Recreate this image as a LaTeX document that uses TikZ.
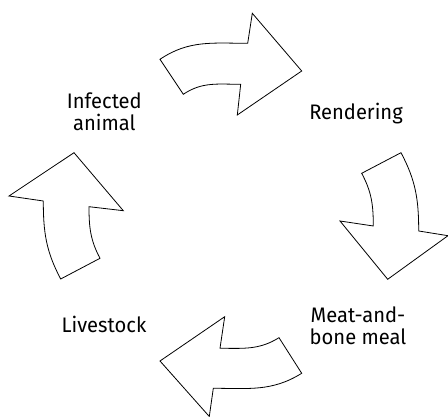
\documentclass[tikz,border=0pt]{standalone}
\usepackage{fontspec}
\setmainfont[FakeStretch=0.96]{Fira Sans}
\usetikzlibrary{calc}

\tikzset{
  blockarrow/.style={draw, line width=0.8pt, line join=miter},
  stage/.style={anchor=base, align=center, inner sep=0pt, font=\fontsize{21}{22}\selectfont}
}

\begin{document}
\begin{tikzpicture}[x=1pt, y=1pt]
        \useasboundingbox (0,0) rectangle (448,417);
        % labels
        \node[stage](infected)at(104.3,286.5){Infected\\animal};
        \node[stage](rendering)at(356,297.5){Rendering};
        \node[stage](meal)at(358,72.7){Meat-and-\\bone meal};
        \node[stage](livestock)at(104,84){Livestock};
        % top arrow
        \coordinate(T1)at(160,357.7);
        \coordinate(T2)at(183.3,322.7);
        \coordinate(T3)at(240.7,332.7);
        \coordinate(T4)at(237.3,302);
        \coordinate(T5)at(301.7,346);
        \coordinate(T6)at(252.3,403.7);
        \coordinate(T7)at(247.7,373.7);
        \path[blockarrow](T1)--(T2)to[out=34,in=180](T3)--(T4)--(T5)--(T6)--(T7)to[out=180,in=34](T1)--cycle;
        % right arrow
        \coordinate(R1)at(361.7,243.7);
        \coordinate(R2)at(401,264.3);
        \coordinate(R3)at(418.7,186);
        \coordinate(R4)at(448,181.3);
        \coordinate(R5)at(387.7,137.7);
        \coordinate(R6)at(340,196);
        \coordinate(R7)at(373.3,191);
        \path[blockarrow](R1)--(R2)to[out=-62,in=90](R3)--(R4)--(R5)--(R6)--(R7)to[out=90,in=-62](R1)--cycle;
        % bottom arrow
        \coordinate(B1)at(279,79.3);
        \coordinate(B2)at(301.7,43.7);
        \coordinate(B3)at(213.3,28.7);
        \coordinate(B4)at(209.3,0.5);
        \coordinate(B5)at(160,56);
        \coordinate(B6)at(224.7,100.3);
        \coordinate(B7)at(220,68.7);
        \path[blockarrow](B1)--(B2)to[out=212,in=0](B3)--(B4)--(B5)--(B6)--(B7)to[out=0,in=212](B1)--cycle;
        % left arrow
        \coordinate(L1)at(60.7,138);
        \coordinate(L2)at(100,158.7);
        \coordinate(L3)at(89,210.3);
        \coordinate(L4)at(123.3,206.3);
        \coordinate(L5)at(74,264.3);
        \coordinate(L6)at(9,221);
        \coordinate(L7)at(43.3,216);
        \path[blockarrow](L1)--(L2)to[out=118,in=-90](L3)--(L4)--(L5)--(L6)--(L7)to[out=-90,in=118](L1)--cycle;
    \end{tikzpicture}
\end{document}
